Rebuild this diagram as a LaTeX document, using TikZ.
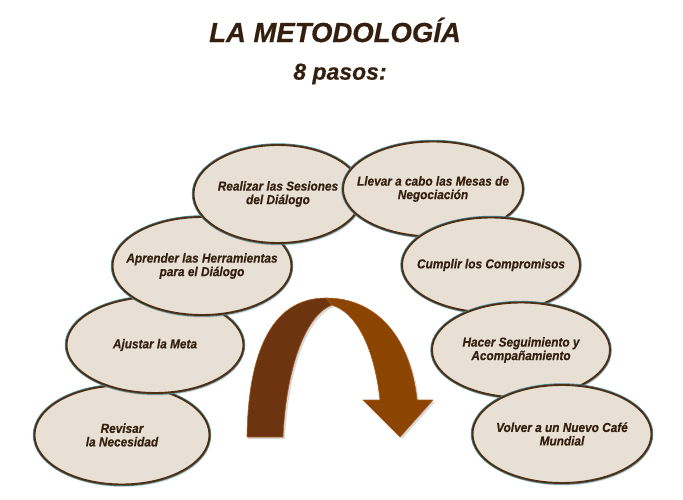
\documentclass[tikz,border=0pt]{standalone}
\usepackage{fontspec}
\setmainfont{Liberation Sans}
\newfontfamily\pasofont[FakeStretch=0.91,FakeBold=0.5]{Liberation Sans}
\newfontfamily\titlefont[FakeBold=0.6]{Liberation Sans}
\usetikzlibrary{shapes.geometric,shadows}
\definecolor{cafe}{HTML}{35200F}
\definecolor{rim}{HTML}{4E2F14}
\definecolor{glow}{HTML}{4A8C9C}
\definecolor{crema}{HTML}{E8E0D4}
\definecolor{tostado}{HTML}{6C3510}
\definecolor{canela}{HTML}{8B4500}
\definecolor{cobre}{HTML}{A85A1E}
\tikzset{x=1pt,y=-1pt,
  every node/.style={text=cafe},
  paso/.style={ellipse,fill=crema,draw=rim,line width=1.9pt,inner sep=0pt,
    minimum width=178pt,minimum height=97pt,
    preaction={draw=glow,line width=3.4pt},
    drop shadow={shadow xshift=1pt,shadow yshift=-2.5pt,opacity=.25,fill=black!60},
    label={[align=center,font=\pasofont\fontsize{13}{13.5}\selectfont\bfseries\itshape,text=cafe]center:#1}},
  titulo/.style={font=\titlefont\fontsize{27.5}{30}\selectfont\bfseries\itshape},
  arco/.style={draw=cobre,line width=.6pt,line join=round}}

\begin{document}
\begin{tikzpicture}
\path[use as bounding box] (0,0) rectangle (683,500);
\node[titulo] (title) at (335,30) {LA METODOLOGÍA};
\node[titulo,font=\titlefont\fontsize{23}{26}\selectfont\bfseries\itshape] (sub) at (340,74) {8 pasos:};
% the eight steps, later ones on top
\node[paso={Revisar\\la Necesidad},minimum width=175pt,minimum height=99pt] (s1) at (122,435) {};
\node[paso={Ajustar la Meta},minimum width=177pt,minimum height=96pt] (s2) at (155,345) {};
\node[paso={Aprender las Herramientas\\para el Diálogo},minimum width=179pt,minimum height=98pt] (s3) at (202,266) {};
\node[paso={Realizar las Sesiones\\del Diálogo},minimum width=169pt,minimum height=98pt] (s4) at (278,194) {};
\node[paso={Llevar a cabo las Mesas de\\Negociación},minimum width=180pt,minimum height=95pt] (s5) at (433,189) {};
\node[paso={Cumplir los Compromisos},minimum width=178pt,minimum height=95pt] (s6) at (491,265) {};
\node[paso={Hacer Seguimiento y\\Acompañamiento},minimum width=178pt,minimum height=95pt] (s7) at (521,350) {};
\node[paso={Volver a un Nuevo Café\\Mundial},minimum width=179pt,minimum height=98pt] (s8) at (562,434) {};
% curved arrow
\fill[black,opacity=.15] (248,439) .. controls (249,362) and (266,302) .. (328,300) .. controls (377,300) and (412,337) .. (419,402) -- (435,402) -- (402,439) -- (365,402) -- (382,402) .. controls (376,347) and (357,314) .. (334,307) .. controls (307,317) and (288,372) .. (285,439) -- cycle;
\path[arco,fill=canela] (326,298) .. controls (375,298) and (410,335) .. (417,400) -- (433,400) -- (400,437) -- (363,400) -- (380,400) .. controls (374,345) and (355,312) .. (332,305) -- cycle;
\path[arco,fill=tostado] (247,437) .. controls (248,360) and (268,298) .. (326,298) -- (332,305) .. controls (305,315) and (286,370) .. (283,437) -- cycle;
\end{tikzpicture}
\end{document}
